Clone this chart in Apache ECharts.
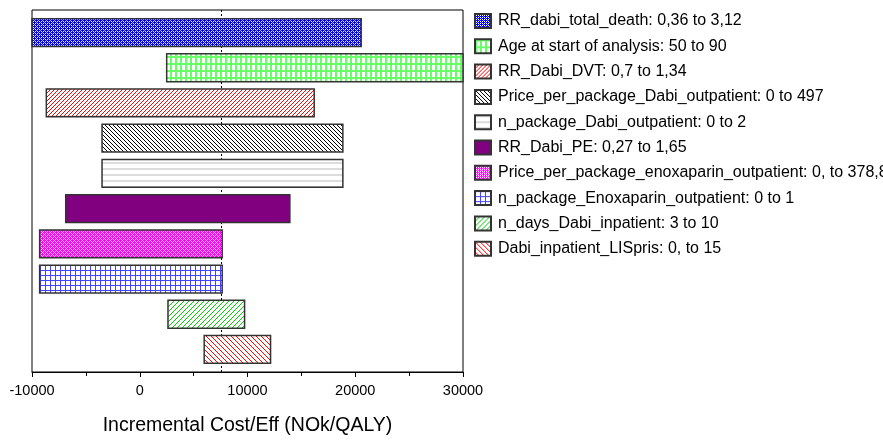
<!DOCTYPE html>
<html>
<head>
<meta charset="utf-8">
<script src="https://cdn.jsdelivr.net/npm/echarts@6/dist/echarts.min.js"></script>
<style>
  html, body { margin: 0; padding: 0; background: #fff; }
  #main { width: 883px; height: 441px; }
</style>
</head>
<body>
<div id="main"></div>
<script>
// tornado diagram, values
var paramNames = [
  'RR_dabi_total_death: 0,36 to 3,12',
  'Age at start of analysis: 50 to 90',
  'RR_Dabi_DVT: 0,7 to 1,34',
  'Price_per_package_Dabi_outpatient: 0 to 497',
  'n_package_Dabi_outpatient: 0 to 2',
  'RR_Dabi_PE: 0,27 to 1,65',
  'Price_per_package_enoxaparin_outpatient: 0, to 378,8',
  'n_package_Enoxaparin_outpatient: 0 to 1',
  'n_days_Dabi_inpatient: 3 to 10',
  'Dabi_inpatient_LISpris: 0, to 15'
];
var lowValues  = [-10000, 2500, -8670, -3500, -3500, -6870, -9290, -9290, 2620, 5980];
var highValues = [20550, 30000, 16190, 18850, 18850, 13930, 7650, 7650, 9730, 12140];
var baseValue = 7560;
var xTicks = { min: -10000, max: 30000, step: 10000 };

// small tiles for the hatch fills
function tile(w, h, bg, fg, fn) {
  var c = document.createElement('canvas');
  c.width = w; c.height = h;
  var ctx = c.getContext('2d');
  ctx.fillStyle = bg;
  ctx.fillRect(0, 0, w, h);
  for (var y = 0; y < h; y++) {
    for (var x = 0; x < w; x++) {
      var col = fn(x, y);
      if (col) {
        ctx.fillStyle = col === true ? fg : col;
        ctx.fillRect(x, y, 1, 1);
      }
    }
  }
  return { image: c, repeat: 'repeat' };
}
// checker-like cross hatch: coloured lattice with white holes
function checker(light) {
  return function (x, y) {
    if (x % 2 === 1 && y % 2 === 1) return '#ffffff';
    if (x % 2 === 0 && y % 2 === 0 && (x + y) % 4 === 2) return light;
    return false;
  };
}

var fills = [
  tile(4, 4, '#0000ff', null, checker('#9999ff')),
  tile(5, 7, '#ffffff', '#66ff66', function (x, y) { return x < 2 || y < 2; }),
  tile(4, 4, '#ffffff', '#ff0000', function (x, y) { return (x + y) % 4 === 3; }),
  tile(4, 4, '#ffffff', '#000000', function (x, y) { return (x - y + 4) % 4 === 0; }),
  tile(1, 6, '#ffffff', '#dcdcdc', function (x, y) { return y < 2; }),
  '#800080',
  tile(4, 4, '#ff00ff', null, checker('#ff99ff')),
  tile(5, 5, '#ffffff', '#4444ff', function (x, y) { return x === 0 || y === 0; }),
  tile(5, 5, '#ffffff', '#00cc00', function (x, y) { return (x + y) % 5 === 4; }),
  tile(5, 5, '#ffffff', '#ff0000', function (x, y) { return (x - y + 5) % 5 === 0; })
];

var myChart = echarts.init(document.getElementById('main'));

var series = paramNames.map(function (name, i) {
  return {
    name: name,
    type: 'custom',
    z: 10,
    itemStyle: { color: fills[i], borderColor: '#333', borderWidth: 1 },
    data: [[lowValues[i], highValues[i], i]],
    renderItem: function (params, api) {
      var a = api.coord([api.value(0), api.value(2)]);
      var b = api.coord([api.value(1), api.value(2)]);
      var h = api.size([0, 0.79])[1];
      return {
        type: 'rect',
        shape: { x: a[0], y: a[1] - h / 2, width: b[0] - a[0], height: h },
        style: { fill: fills[i], stroke: '#333', lineWidth: 1.5 }
      };
    }
  };
});

// dotted base line, drawn under the bars
series.push({
  type: 'line',
  data: [],
  z: 1,
  markLine: {
    z: 1,
    silent: true,
    symbol: 'none',
    label: { show: false },
    lineStyle: { color: '#000', width: 1, type: [2, 2] },
    data: [{ xAxis: baseValue }]
  }
});

myChart.setOption({
  animation: false,
  grid: {
    left: 32, right: 420, top: 10, height: 365,
    show: true, borderColor: '#000', borderWidth: 1
  },
  legend: {
    orient: 'vertical',
    left: 474, top: 13,
    padding: 0,
    itemWidth: 16, itemHeight: 14, itemGap: 9.3,
    icon: 'rect',
    selectedMode: false,
    textStyle: { fontFamily: 'Liberation Sans, Arial', fontSize: 16, color: '#000', padding: [0, 0, 0, 2] },
    data: paramNames
  },
  xAxis: {
    type: 'value',
    min: xTicks.min, max: xTicks.max, interval: xTicks.step,
    splitLine: { show: false },
    axisLine: { onZero: false, lineStyle: { color: '#000', width: 1 } },
    axisTick: { show: true, length: 5, lineStyle: { color: '#000' } },
    minorTick: { show: true, splitNumber: 2, length: 4, lineStyle: { color: '#000' } },
    axisLabel: {
      color: '#000', fontFamily: 'Liberation Sans, Arial', fontSize: 14.5, margin: 11,
      formatter: function (v) { return String(v); }
    },
    name: 'Incremental Cost/Eff (NOk/QALY)',
    nameLocation: 'middle',
    nameGap: 44,
    nameTextStyle: { color: '#000', fontFamily: 'Liberation Sans, Arial', fontSize: 19.5 }
  },
  yAxis: {
    type: 'value',
    inverse: true,
    min: -0.64, max: 9.64,
    show: false
  },
  series: series
});
</script>
</body>
</html>
